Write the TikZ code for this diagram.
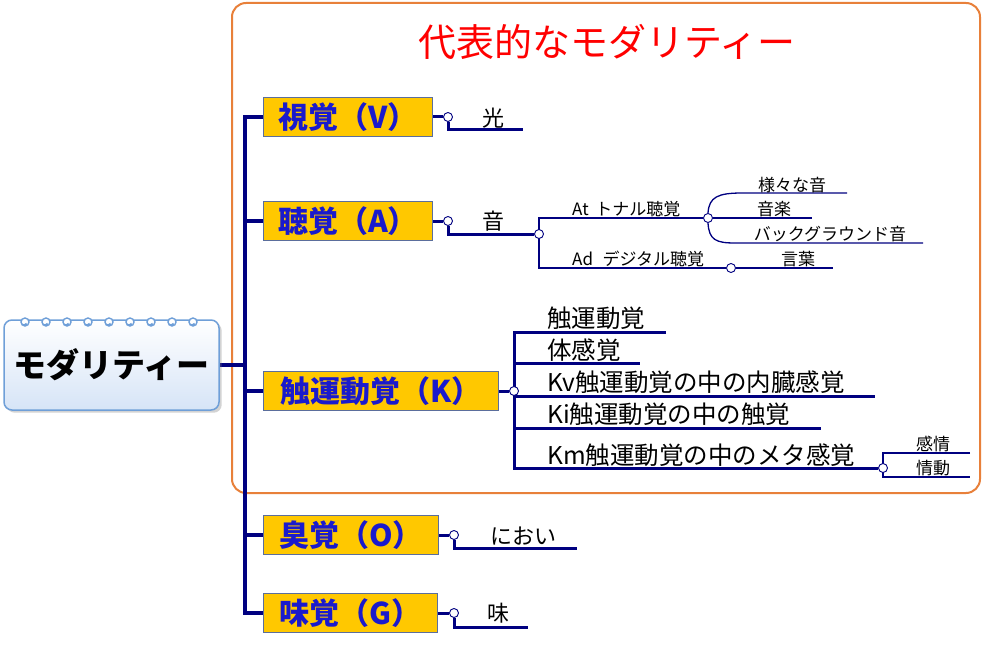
\documentclass[tikz,border=0pt]{standalone}
\usepackage{fontspec}
\setmainfont{Noto Sans CJK JP}
\usetikzlibrary{positioning, calc, shadows, backgrounds}
\definecolor{navyline}{HTML}{000080}
\definecolor{sensegold}{HTML}{FFC800}
\definecolor{senseedge}{HTML}{5B6E9C}
\definecolor{senseblue}{HTML}{1A1ACC}
\definecolor{frameorange}{HTML}{E8803A}
\definecolor{titlered}{HTML}{FF0000}
\definecolor{rootedge}{HTML}{6F9FD8}
\definecolor{rootfill}{HTML}{D6E4F7}

\begin{document}
\begin{tikzpicture}[x=1pt, y=-1pt,
  rootbox/.style={rectangle, draw=rootedge, line width=1.5pt, rounded corners=8pt, top color=white, bottom color=rootfill, drop shadow={opacity=0.35}, minimum width=215pt, minimum height=90pt, inner sep=0pt, font=\fontsize{33}{35}\selectfont\bfseries},
  sense/.style={rectangle, draw=senseedge, line width=1pt, fill=sensegold, text=senseblue, font=\fontsize{30}{32}\selectfont\bfseries, minimum height=39pt, inner sep=0pt, anchor=west},
  knob/.style={circle, draw=navyline, fill=white, line width=0.9pt, inner sep=0pt, minimum size=9pt},
  leaf/.style={inner sep=0pt, font=\fontsize{22}{24}\selectfont},
  kleaf/.style={inner sep=0pt, anchor=west, font=\fontsize{24.5}{26}\selectfont},
  twigtext/.style={inner sep=0pt, font=\fontsize{17}{19}\selectfont},
  trunk/.style={navyline, line width=4pt},
  limb/.style={navyline, line width=3pt},
  twig/.style={navyline, line width=1.3pt}
]
  \useasboundingbox (0,0) rectangle (983,658);

  \begin{scope}[on background layer]
    \draw[frameorange, line width=2pt, rounded corners=14pt] (232,3) rectangle (980,493);
  \end{scope}
  \node[font=\fontsize{38}{40}\selectfont, text=titlered] (title) at (607,42) {代表的なモダリティー};

  % root
  \node[rootbox] (root) at (111.5,365) {モダリティー};
  \foreach \i in {0,...,8}
    \draw[rootedge, line width=1.4pt, fill=white] (25+\i*21,322) circle[radius=4pt]
      (21+\i*21,322) arc[start angle=180, end angle=330, radius=3pt];
  \coordinate (trunkx) at (245,0);

  % senses
  \node[sense, minimum width=169pt] (vis) at (263,117) {視覚（V）};
  \node[sense, minimum width=169pt] (aud) at (263,221) {聴覚（A）};
  \node[sense, minimum width=235pt] (kin) at (263,391) {触運動覚（K）};
  \node[sense, minimum width=175pt] (olf) at (263,535) {臭覚（O）};
  \node[sense, minimum width=174pt] (gus) at (263,613) {味覚（G）};

  % vision
  \node[knob] (visk) at (448,117) {};
  \node[leaf] (hikari) at (493,118) {光};
  \coordinate (hikarie) at (523,130);

  % audition
  \node[knob] (audk) at (448,221) {};
  \node[leaf] (oto) at (493,221) {音};
  \node[knob] (audk2) at (539,234) {};
  \node[twigtext, anchor=west] (tonal) at (572,209) {At\, トナル聴覚};
  \node[knob] (tonalk) at (708,218) {};
  \node[twigtext, anchor=west] (digit) at (572,259) {Ad\,\, デジタル聴覚};
  \node[knob] (digitk) at (731,268) {};
  \node[twigtext] (sama) at (792,185) {様々な音};
  \node[twigtext, anchor=west] (gaku) at (757,209) {音楽};
  \node[twigtext] (back) at (830,234) {バックグラウンド音};
  \node[twigtext] (kotoba) at (798,259) {言葉};
  \coordinate (samas) at (742,193);
  \coordinate (samae) at (847,193);
  \coordinate (gakue) at (812,218);
  \coordinate (backs) at (735,243);
  \coordinate (backe) at (923,243);
  \coordinate (kotobae) at (833,268);

  % kinesthetic
  \node[knob] (kink) at (514,391) {};
  \node[kleaf] (k1) at (547,318) {触運動覚};
  \node[kleaf] (k2) at (547,350) {体感覚};
  \node[kleaf] (k3) at (547,382) {Kv触運動覚の中の内臓感覚};
  \node[kleaf] (k4) at (547,414) {Ki触運動覚の中の触覚};
  \node[kleaf] (k5) at (547,455) {Km触運動覚の中のメタ感覚};
  \coordinate (k1e) at (666,332);
  \coordinate (k2e) at (640,363);
  \coordinate (k3e) at (875,396);
  \coordinate (k4e) at (821,428);
  \node[knob] (kmk) at (883,468) {};
  \node[twigtext] (kanjo) at (933,444) {感情};
  \node[twigtext] (jodo) at (933,468) {情動};
  \coordinate (kanjoe) at (970,453);
  \coordinate (jodoe) at (970,477);

  % smell and taste
  \node[knob] (olfk) at (454,535) {};
  \node[leaf] (nioi) at (523,536) {におい};
  \coordinate (nioie) at (577,548);
  \node[knob] (gusk) at (454,613) {};
  \node[leaf] (aji) at (498,613) {味};
  \coordinate (ajie) at (528,627);

  \begin{scope}[on background layer]
    \draw[trunk] (root.east) -- (root.east -| trunkx);
    \draw[trunk] (vis.west) -- (vis.west -| trunkx) -- (gus.west -| trunkx) -- (gus.west);
    \draw[trunk] (aud.west -| trunkx) -- (aud.west);
    \draw[trunk] (kin.west -| trunkx) -- (kin.west);
    \draw[trunk] (olf.west -| trunkx) -- (olf.west);

    \draw[limb] (vis.east) -- (visk);
    \draw[limb] (visk.south) |- (hikarie);
    \draw[limb] (aud.east) -- (audk);
    \draw[limb] (audk.south) |- (audk2.west);
    \draw[twig] (tonalk.west) -| (audk2.center) |- (digitk.west);
    \draw[twig] (digitk.east) -- (kotobae);
    \draw[twig] (tonalk.north) .. controls (709,197) and (718,193) .. (samas) -- (samae);
    \draw[twig] (tonalk.east) -- (gakue);
    \draw[twig] (tonalk.south) .. controls (709,240) and (716,243) .. (backs) -- (backe);

    \draw[limb] (kin.east) -- (kink);
    \draw[limb] (k1e) -| (kink.center) |- (kmk.west);
    \draw[limb] (kink.center |- k2e) -- (k2e);
    \draw[limb] (kink.center |- k3e) -- (k3e);
    \draw[limb] (kink.center |- k4e) -- (k4e);
    \draw[twig] (kanjoe) -| (kmk.center) |- (jodoe);

    \draw[limb] (olf.east) -- (olfk);
    \draw[limb] (olfk.south) |- (nioie);
    \draw[limb] (gus.east) -- (gusk);
    \draw[limb] (gusk.south) |- (ajie);
  \end{scope}
\end{tikzpicture}
\end{document}
